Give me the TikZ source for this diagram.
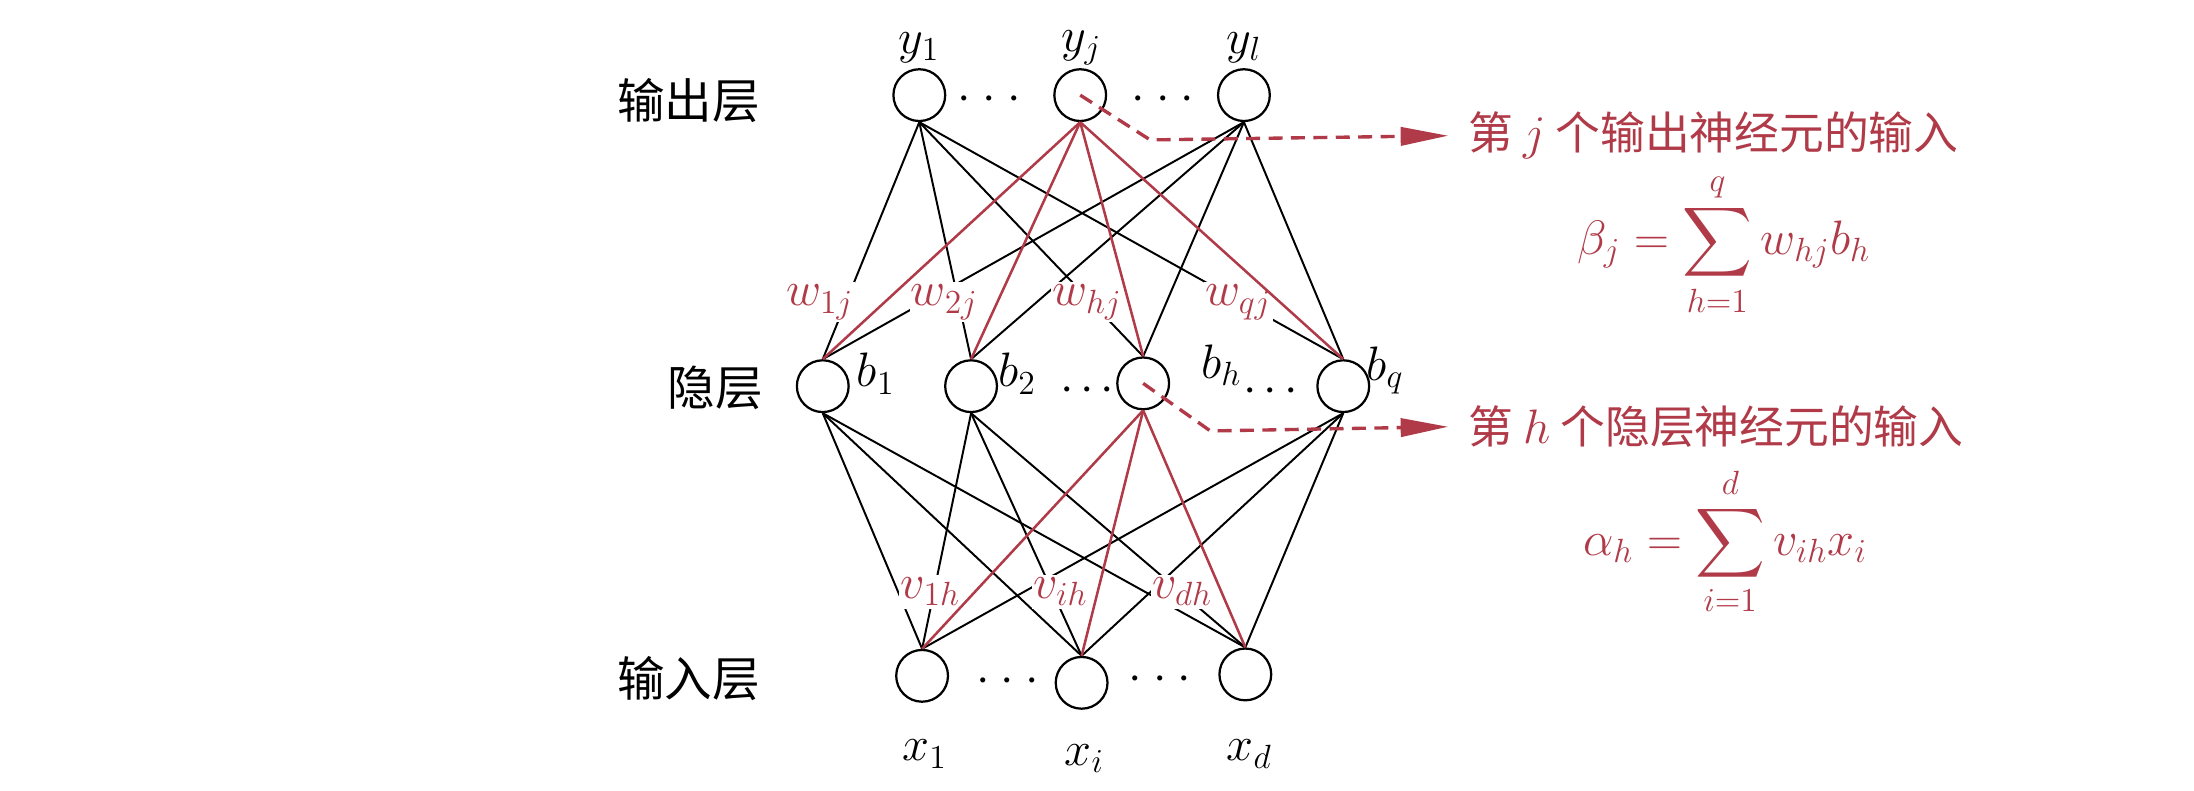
\documentclass[tikz,border=0pt]{standalone}
\usepackage{amsmath}
\usepackage{exscale}
\usepackage{fontspec}
\newfontfamily\cjk{Noto Sans CJK SC}
\usetikzlibrary{arrows.meta}
\definecolor{wred}{RGB}{176,58,72}
\newcommand\dotrow[1]{$\mathord{\cdot}\hspace{#1}\mathord{\cdot}\hspace{#1}\mathord{\cdot}$}
\begin{document}
\begin{tikzpicture}[x=0.5pt,y=-0.5pt,
  neuron/.style={draw,circle,line width=0.8pt,minimum size=18.5pt,inner sep=0pt},
  lbl/.style={font=\fontsize{18}{20}\selectfont,inner sep=0pt},
  wlbl/.style={font=\fontsize{18}{20}\selectfont,text=wred,fill=white,inner xsep=0.5pt,inner ysep=1pt,text height=0.75em},
  cjklbl/.style={font=\cjk\fontsize{17}{20}\selectfont,inner sep=0pt},
  edge/.style={line width=0.7pt},
  redge/.style={line width=0.9pt,draw=wred},
  dasharrow/.style={draw=wred,line width=1.2pt,dash pattern=on 5pt off 3pt,-{Triangle[length=17pt,width=6.5pt]}},
  note/.style={font=\cjk\fontsize{16}{18}\selectfont,text=wred,anchor=west,inner sep=0pt},
  formula/.style={font=\fontsize{17}{20}\selectfont,text=wred,inner sep=0pt}
]
\useasboundingbox (0,0) rectangle (1568,565);
% neurons
\node[neuron] (y1) at (657,68) {};
\node[neuron] (yj) at (772,68) {};
\node[neuron] (yl) at (889,68) {};
\node[neuron] (b1) at (588,276) {};
\node[neuron] (b2) at (694,276) {};
\node[neuron] (bh) at (817,274) {};
\node[neuron] (bq) at (960,276) {};
\node[neuron] (x1) at (659,483) {};
\node[neuron] (xi) at (773,488) {};
\node[neuron] (xd) at (890,482) {};
% black edges
\foreach \o in {y1,yl} \foreach \h in {b1,b2,bh,bq} \draw[edge] (\o.south) -- (\h.north);
\foreach \h in {b1,b2,bq} \foreach \i in {x1,xi,xd} \draw[edge] (\h.south) -- (\i.north);
% weight labels
\node[wlbl] (w1) at (586,216) {$w_{1j}$};
\node[wlbl] (w2) at (675,216) {$w_{2j}$};
\node[wlbl] (wh) at (777,216) {$w_{hj}$};
\node[wlbl] (wq) at (885,216) {$w_{qj}$};
\node[wlbl] (v1) at (665,423) {$v_{1h}$};
\node[wlbl] (vi) at (758,423) {$v_{ih}$};
\node[wlbl] (vd) at (845,423) {$v_{dh}$};
% red edges
\foreach \h in {b1,b2,bh,bq} \draw[redge] (yj.south) -- (\h.north);
\foreach \i in {x1,xi,xd} \draw[redge] (bh.south) -- (\i.north);
% neuron labels
\node[lbl] (ly1) at (657,34) {$y_1$};
\node[lbl] (lyj) at (773,34) {$y_j$};
\node[lbl] (lyl) at (889,34) {$y_l$};
\node[lbl] (lb1) at (626,267) {$b_1$};
\node[lbl] (lb2) at (727,267) {$b_2$};
\node[lbl] (lbh) at (873,261) {$b_h$};
\node[lbl] (lbq) at (990,265) {$b_q$};
\node[lbl] (lx1) at (661,539) {$x_1$};
\node[lbl] (lxi) at (775,542) {$x_i$};
\node[lbl] (lxd) at (893,539) {$x_d$};
% dots
\node[lbl] (do1) at (707,71) {\dotrow{4pt}};
\node[lbl] (do2) at (831,71) {\dotrow{4pt}};
\node[lbl] (dh1) at (777,279) {\dotrow{2.5pt}};
\node[lbl] (dh2) at (908,280) {\dotrow{2.5pt}};
\node[lbl] (di1) at (720,487) {\dotrow{4pt}};
\node[lbl] (di2) at (829,486) {\dotrow{4pt}};
% layer names
\node[cjklbl] (Lout) at (492,72) {输出层};
\node[cjklbl] (Lhid) at (511,277) {隐层};
\node[cjklbl] (Lin) at (492,485) {输入层};
% dashed arrows
\coordinate (cj) at (822,100);
\coordinate (tj) at (1035,97);
\coordinate (ch) at (865,308);
\coordinate (th) at (1035,305);
\draw[dasharrow] (yj.center) -- (cj) -- (tj);
\draw[dasharrow] (bh.center) -- (ch) -- (th);
\node[note] (n1) at (1049,97) {第 $j$ 个输出神经元的输入};
\node[note] (n2) at (1049,305) {第 $h$ 个隐层神经元的输入};
\node[formula] (f1) at (1232,175) {$\displaystyle \beta_j=\sum_{h=1}^{q} w_{hj}b_h$};
\node[formula] (f2) at (1233,387) {$\displaystyle \alpha_h=\sum_{i=1}^{d} v_{ih}x_i$};
\end{tikzpicture}
\end{document}
